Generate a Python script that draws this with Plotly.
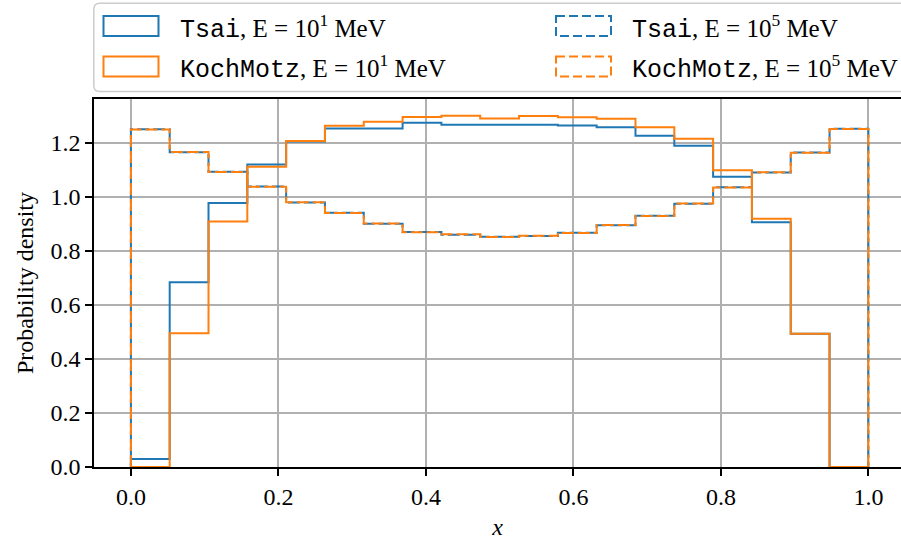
import numpy as np
import plotly.graph_objects as go

# Bin edges (19 equal bins on [0, 1]) and probability densities per bin
bin_edges = np.linspace(0.0, 1.0, 20)

tsai_e1 = [0.030, 0.684, 0.977, 1.120, 1.205, 1.253, 1.253, 1.274, 1.267, 1.265,
           1.267, 1.264, 1.257, 1.226, 1.189, 1.074, 0.906, 0.493, 0.000]
kochmotz_e1 = [0.000, 0.495, 0.909, 1.111, 1.207, 1.263, 1.278, 1.295, 1.300, 1.290,
               1.299, 1.294, 1.289, 1.257, 1.215, 1.098, 0.919, 0.493, 0.000]
tsai_e5 = [1.250, 1.165, 1.093, 1.038, 0.979, 0.941, 0.900, 0.870, 0.860, 0.852,
           0.855, 0.867, 0.895, 0.930, 0.974, 1.035, 1.090, 1.164, 1.252]
kochmotz_e5 = [1.249, 1.166, 1.092, 1.037, 0.980, 0.940, 0.901, 0.869, 0.861, 0.851,
               0.856, 0.866, 0.896, 0.929, 0.975, 1.034, 1.091, 1.163, 1.251]

x_ticks = [0.0, 0.2, 0.4, 0.6, 0.8, 1.0]
y_ticks = [0.0, 0.2, 0.4, 0.6, 0.8, 1.0, 1.2]

labels = [
    '<span style="font-family:Liberation Mono">Tsai</span>, E = 10<sup>1</sup> MeV',
    '<span style="font-family:Liberation Mono">KochMotz</span>, E = 10<sup>1</sup> MeV',
    '<span style="font-family:Liberation Mono">Tsai</span>, E = 10<sup>5</sup> MeV',
    '<span style="font-family:Liberation Mono">KochMotz</span>, E = 10<sup>5</sup> MeV',
]

BLUE = "#1f77b4"
ORANGE = "#ff7f0e"
SERIF = "Liberation Serif"

# Dash patterns: the blue one is shifted half a period so it shows in the orange gaps
DASH_TOP = "12px,4px"
DASH_UNDER = "4px,4px,8px,0px"

# Figure geometry (pixels)
W, H = 901, 545
PL, PT, PB = 94, 99, 467          # plot area left, top, bottom
PW, PH = W - PL, PB - PT
X_UNIT = 737.5                    # pixels per unit of x
X0 = -0.05


def step_outline(edges, heights):
    """Outline of a step histogram: up at the first edge, down at the last."""
    edges = np.asarray(edges)
    h = np.asarray(heights)
    xs = np.concatenate([[edges[0]], np.repeat(edges, 2)[1:-1], [edges[-1]]])
    ys = np.concatenate([[0.0], np.repeat(h, 2), [0.0]])
    return xs, ys


def xp(px):
    return (px - PL) / PW


def yp(py):
    return (PB - py) / PH


fig = go.Figure()

series = [
    (tsai_e1, BLUE, "solid"),
    (tsai_e5, BLUE, DASH_UNDER),
    (kochmotz_e1, ORANGE, "solid"),
    (kochmotz_e5, ORANGE, DASH_TOP),
]
for vals, color, dash in series:
    xs, ys = step_outline(bin_edges, vals)
    fig.add_trace(go.Scatter(
        x=xs, y=ys, mode="lines",
        line=dict(color=color, width=2, dash=dash),
        showlegend=False, hoverinfo="skip",
    ))

# Legend frame (rounded, light grey) spanning the axes width
bx0, bx1, by0, by1, r = 93.8, 915, 3.3, 91.5, 6
path = (
    f"M {xp(bx0 + r)},{yp(by0)} L {xp(bx1 - r)},{yp(by0)} "
    f"Q {xp(bx1)},{yp(by0)} {xp(bx1)},{yp(by0 + r)} "
    f"L {xp(bx1)},{yp(by1 - r)} Q {xp(bx1)},{yp(by1)} {xp(bx1 - r)},{yp(by1)} "
    f"L {xp(bx0 + r)},{yp(by1)} Q {xp(bx0)},{yp(by1)} {xp(bx0)},{yp(by1 - r)} "
    f"L {xp(bx0)},{yp(by0 + r)} Q {xp(bx0)},{yp(by0)} {xp(bx0 + r)},{yp(by0)} Z"
)
shapes = [dict(type="path", xref="paper", yref="paper", path=path,
               line=dict(color="#cccccc", width=1.5),
               fillcolor="rgba(255,255,255,0.8)", layer="above")]

annotations = []
# entries: (label, colour, dash, column x of swatch, row centre y)
entries = [
    (labels[0], BLUE, "solid", 103.5, 26),
    (labels[1], ORANGE, "solid", 103.5, 66.5),
    (labels[2], BLUE, "9px,4px", 556, 26),
    (labels[3], ORANGE, "9px,4px", 556, 66.5),
]
for text, color, dash, sx, cy in entries:
    shapes.append(dict(
        type="rect", xref="paper", yref="paper",
        x0=xp(sx), x1=xp(sx + 55), y0=yp(cy - 10), y1=yp(cy + 10),
        line=dict(color=color, width=2, dash=dash),
        fillcolor="rgba(0,0,0,0)", layer="above",
    ))
    annotations.append(dict(
        x=xp(sx + 74), y=yp(cy + 1), xref="paper", yref="paper",
        xanchor="left", yanchor="middle", text=text, showarrow=False,
        font=dict(family=SERIF, size=25, color="black"),
    ))

fig.update_layout(
    width=W, height=H,
    margin=dict(l=PL, r=0, t=PT, b=H - PB),
    plot_bgcolor="white", paper_bgcolor="white",
    font=dict(family=SERIF, size=24, color="black"),
    shapes=shapes, annotations=annotations,
    xaxis=dict(
        range=[X0, X0 + PW / X_UNIT],
        tickvals=x_ticks, ticktext=[f"{v:.1f}" for v in x_ticks],
        showgrid=True, gridcolor="#b0b0b0", gridwidth=1.6,
        showline=True, linecolor="black", linewidth=1.6, mirror=True,
        ticks="outside", ticklen=7, tickwidth=1.6, tickcolor="black",
        zeroline=False,
        title=dict(text="<i>x</i>", font=dict(family=SERIF, size=24), standoff=10),
    ),
    yaxis=dict(
        range=[0, 1.362],
        tickvals=y_ticks, ticktext=[f"{v:.1f}" for v in y_ticks],
        showgrid=True, gridcolor="#b0b0b0", gridwidth=1.6,
        showline=True, linecolor="black", linewidth=1.6, mirror=False,
        ticks="outside", ticklen=7, tickwidth=1.6, tickcolor="black",
        zeroline=False,
        title=dict(text="Probability density", font=dict(family=SERIF, size=24), standoff=10),
    ),
)

fig.write_html("out.html")
